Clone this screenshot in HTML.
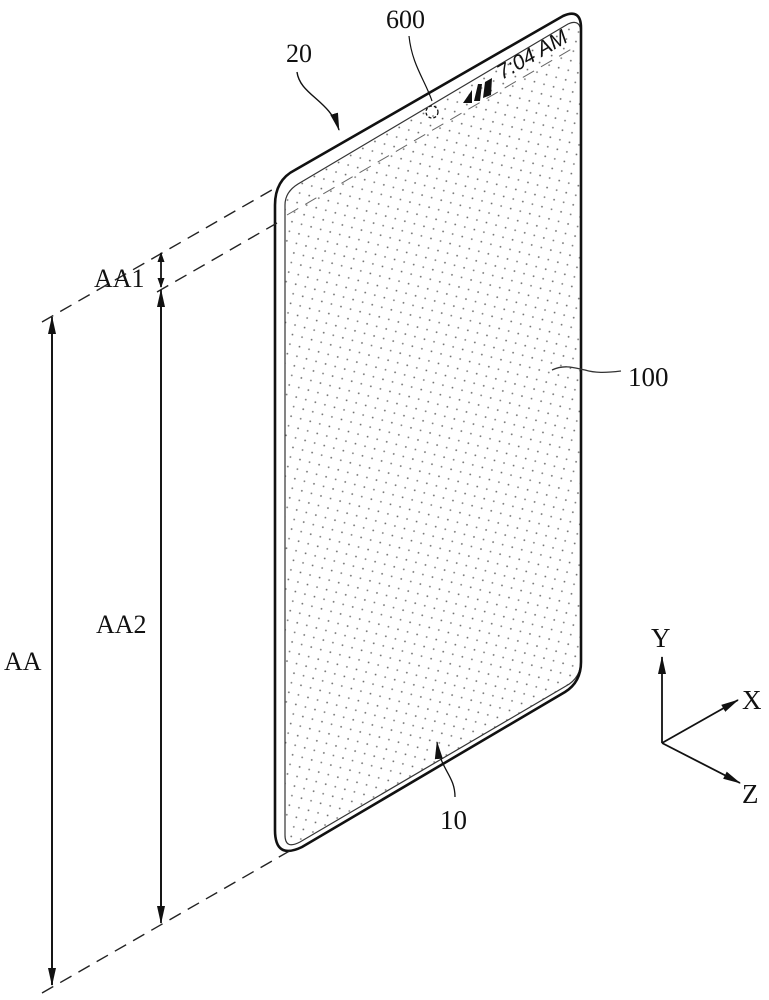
<!DOCTYPE html>
<html><head><meta charset="utf-8"><style>
html,body{margin:0;padding:0;background:#fff;width:769px;height:1000px;overflow:hidden}
text{font-family:"Liberation Serif",serif;fill:#111}
</style></head><body>
<svg width="769" height="1000" viewBox="0 0 769 1000" xmlns="http://www.w3.org/2000/svg">
<defs>
<pattern id="dots" width="14" height="14" patternUnits="userSpaceOnUse" patternTransform="rotate(-30)">
<circle cx="2" cy="2" r="0.9" fill="#666"/><circle cx="9" cy="9" r="0.9" fill="#777"/>
</pattern>
<marker id="ah" markerWidth="10" markerHeight="10" refX="9" refY="5" orient="auto" markerUnits="userSpaceOnUse">
<path d="M0,1.5 L10,5 L0,8.5 Z" fill="#111"/></marker>
<marker id="ahl" markerWidth="18" markerHeight="12" refX="17" refY="6" orient="auto" markerUnits="userSpaceOnUse">
<path d="M0,2 L18,6 L0,10 Z" fill="#111"/></marker>
</defs>
<path d="M285,205 Q285,192 298,184 L568,24 Q581,18 581,34 L581,660 Q581,678 566,686 L300,842 Q285,850 285,835 Z" fill="url(#dots)" stroke="#333" stroke-width="1.2"/>
<path d="M275,205 Q275,180 295,170 L563,16 Q581,8 581,28 L581,662 Q581,682 565,692 L302,847 Q275,860 275,830 Z" fill="none" stroke="#111" stroke-width="2.6"/>
<g stroke="#222" stroke-width="1.4" stroke-dasharray="13,8" fill="none">
<line x1="42" y1="322" x2="277" y2="187"/>
<line x1="157" y1="292" x2="277" y2="223"/>
<line x1="287" y1="215" x2="575" y2="47" stroke="#666" stroke-width="1"/>
<line x1="42" y1="993" x2="293" y2="849"/>
</g>
<g stroke="#111" stroke-width="1.8" fill="none">
<line x1="52" y1="985" x2="52" y2="317" marker-end="url(#ahl)"/>
<line x1="52" y1="330" x2="52" y2="985" marker-end="url(#ahl)"/>
<line x1="161" y1="910" x2="161" y2="290" marker-end="url(#ahl)"/>
<line x1="161" y1="300" x2="161" y2="923" marker-end="url(#ahl)"/>
<line x1="161" y1="270" x2="161" y2="253" marker-end="url(#ah)"/>
<line x1="161" y1="270" x2="161" y2="287" marker-end="url(#ah)"/>
</g>
<text x="4" y="670" font-size="26">AA</text>
<text x="96" y="633" font-size="26">AA2</text>
<text x="94" y="287" font-size="26">AA1</text>
<text x="286" y="62" font-size="26">20</text>
<path d="M297,72 C300,95 330,100 339,130" fill="none" stroke="#111" stroke-width="1.4" marker-end="url(#ahl)"/>
<text x="386" y="28" font-size="26">600</text>
<path d="M409,36 C412,65 425,80 432,101" fill="none" stroke="#111" stroke-width="1.2"/>
<circle cx="432" cy="112" r="6" fill="none" stroke="#111" stroke-width="1.3" stroke-dasharray="3,2"/>
<path d="M463,103 L472,90 L472,103 Z M474,101 L478,84 L482,84 L480,101 Z M483,98 L485,82 L492,78 L491,95 Z" fill="#111"/>
<text x="502" y="80" font-size="21" font-style="italic" transform="rotate(-30 502 80)" style="font-family:'Liberation Sans',sans-serif">7:04  AM</text>
<path d="M552,370 C565,364 575,368 585,370 C595,373 605,373 621,371" fill="none" stroke="#333" stroke-width="1.3"/>
<text x="628" y="386" font-size="27">100</text>
<path d="M455,797 C455,775 440,770 437,742" fill="none" stroke="#111" stroke-width="1.3" marker-end="url(#ahl)"/>
<text x="440" y="829" font-size="27">10</text>
<g stroke="#111" stroke-width="1.8" fill="none">
<line x1="662" y1="743" x2="662" y2="657" marker-end="url(#ahl)"/>
<line x1="662" y1="743" x2="738" y2="700" marker-end="url(#ahl)"/>
<line x1="662" y1="743" x2="740" y2="783" marker-end="url(#ahl)"/>
</g>
<text x="651" y="647" font-size="27">Y</text>
<text x="742" y="709" font-size="27">X</text>
<text x="742" y="803" font-size="27">Z</text>
</svg>
</body></html>
